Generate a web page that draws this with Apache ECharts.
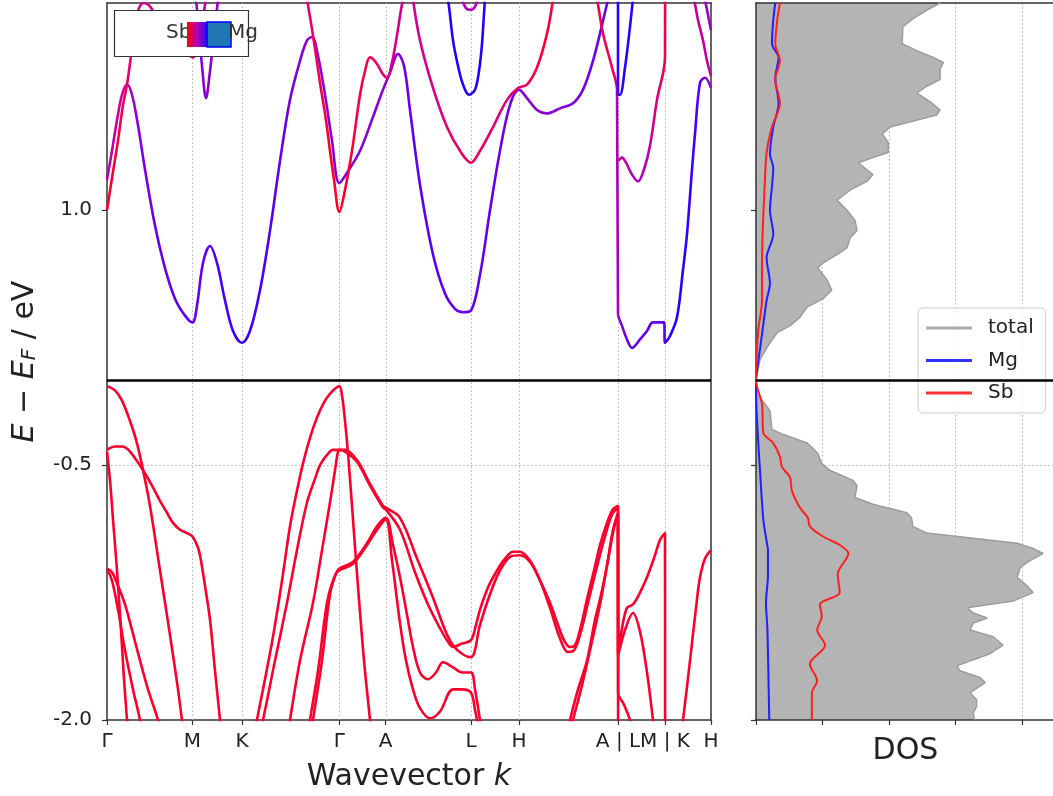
<!DOCTYPE html>
<html>
<head>
<meta charset="utf-8">
<title>Band structure and DOS</title>
<script src="https://cdn.jsdelivr.net/npm/echarts@6.0.0/dist/echarts.min.js"></script>
<style>
html,body{margin:0;padding:0;background:#ffffff;}
#chart{width:1053px;height:796px;}
</style>
</head>
<body>
<div id="chart"></div>
<script>
// ---------------- data ----------------
const kPoints = [0, 0.855, 1.35, 2.323, 2.787, 3.64, 4.12, 5.11, 5.58, 6.04];
const kLabels = ['Γ', 'M', 'K', 'Γ', 'A', 'L', 'H', 'A | L', 'M | K', 'H'];
const energyTicks = [-2.0, -0.5, 1.0];
const energyMin = -2.0;
const energyMax = 2.22;
const dosTicks = [0, 1, 2, 3, 4];
const dosMax = 4.5;

// conduction bands: [k, E, Mg weight]
const cb1 = [[0,1.18,.55],[0.05,1.35,.5],[0.10,1.53,.45],[0.15,1.68,.42],[0.20,1.74,.42],[0.25,1.68,.5],[0.31,1.50,.58],[0.38,1.24,.64],[0.48,0.91,.68],[0.58,0.66,.7],[0.68,0.48,.72],[0.78,0.38,.72],[0.855,0.34,.72],[0.90,0.44,.7],[0.96,0.69,.7],[1.03,0.79,.72],[1.10,0.69,.75],[1.18,0.47,.78],[1.26,0.29,.8],[1.35,0.22,.82],[1.43,0.29,.8],[1.53,0.53,.78],[1.63,0.88,.75],[1.73,1.29,.7],[1.83,1.65,.66],[1.93,1.88,.62],[2.00,2.00,.6],[2.05,2.02,.58],[2.11,1.91,.58],[2.18,1.68,.6],[2.25,1.41,.62],[2.323,1.16,.62],[2.40,1.22,.62],[2.53,1.35,.62],[2.66,1.55,.62],[2.76,1.71,.6],[2.83,1.81,.6],[2.91,1.92,.62],[2.97,1.85,.66],[3.03,1.59,.7],[3.13,1.15,.72],[3.26,0.74,.73],[3.38,0.51,.72],[3.48,0.42,.7],[3.56,0.40,.7],[3.64,0.41,.7],[3.73,0.62,.7],[3.83,1.00,.7],[3.93,1.35,.68],[4.03,1.62,.65],[4.12,1.71,.62],[4.20,1.66,.6],[4.30,1.59,.6],[4.40,1.57,.6],[4.53,1.60,.62],[4.66,1.63,.64],[4.76,1.71,.66],[4.86,1.88,.68],[4.95,2.09,.68],[5.01,2.24,.68],[5.03,2.29,.68]];
const cb2 = [[0,1.00,.12],[0.05,1.19,.15],[0.11,1.41,.2],[0.16,1.62,.25],[0.20,1.74,.3],[0.24,1.91,.32],[0.28,2.09,.35],[0.32,2.19,.38],[0.37,2.22,.4],[0.43,2.20,.4],[0.50,2.13,.4],[0.58,2.06,.4],[0.68,1.99,.4],[0.78,1.93,.4],[0.86,1.90,.4],[0.91,1.97,.42],[0.95,2.09,.45],[0.98,2.21,.45],[0.99,2.26,.45]];
const cb3 = [[0.89,2.24,.55],[0.92,2.06,.58],[0.95,1.85,.6],[0.99,1.66,.62],[1.03,1.82,.6],[1.07,2.03,.58],[1.11,2.24,.55]];
const cb4 = [[1.99,2.26,.35],[2.00,2.24,.35],[2.06,2.03,.32],[2.13,1.75,.28],[2.19,1.53,.22],[2.23,1.35,.18],[2.27,1.18,.14],[2.323,0.99,.1],[2.38,1.12,.14],[2.45,1.35,.18],[2.53,1.68,.22],[2.58,1.82,.24],[2.63,1.90,.26],[2.69,1.87,.3],[2.76,1.80,.35],[2.80,1.78,.38],[2.85,1.87,.4],[2.90,2.03,.4],[2.94,2.18,.4],[2.96,2.24,.4]];
const cb5 = [[3.06,2.24,.42],[3.13,2.00,.4],[3.26,1.72,.38],[3.40,1.49,.34],[3.53,1.35,.3],[3.64,1.28,.28],[3.73,1.35,.3],[3.86,1.49,.34],[4.00,1.65,.36],[4.11,1.72,.32],[4.20,1.74,.25],[4.30,1.84,.2],[4.40,2.04,.18],[4.46,2.24,.18]];
const cb6 = [[3.39,2.26,.85],[3.41,2.24,.85],[3.46,2.00,.86],[3.51,1.85,.87],[3.56,1.74,.88],[3.62,1.68,.88],[3.68,1.71,.88],[3.72,1.82,.87],[3.75,1.98,.86],[3.78,2.24,.85],[3.79,2.26,.85]];
const cb7 = [[3.55,2.24,.5],[3.59,2.19,.5],[3.63,2.18,.5],[3.67,2.19,.5],[3.71,2.24,.5]];
const cb8 = [[4.88,2.26,.25],[4.90,2.24,.25],[4.96,2.04,.25],[5.05,1.84,.25],[5.10,1.71,.28],[5.11,0.39,.5],[5.15,0.32,.62],[5.20,0.24,.68],[5.25,0.19,.7],[5.33,0.24,.7],[5.40,0.29,.7],[5.46,0.34,.7],[5.57,0.34,.72],[5.58,0.22,.85],[5.63,0.26,.86],[5.70,0.37,.86],[5.76,0.65,.85],[5.80,0.86,.84],[5.85,1.24,.8],[5.88,1.45,.78],[5.93,1.75,.7],[5.98,1.78,.62],[6.04,1.72,.58]];
const cb9 = [[5.11,2.26,.85],[5.11,1.68,.85],[5.13,1.68,.85],[5.18,1.84,.85],[5.23,2.08,.85],[5.26,2.24,.85],[5.27,2.26,.85]];
const cb10 = [[5.11,1.29,.4],[5.15,1.31,.42],[5.19,1.28,.45],[5.25,1.21,.5],[5.31,1.17,.52],[5.37,1.24,.5],[5.43,1.38,.45],[5.50,1.65,.35],[5.58,1.90,.2],[5.581,2.26,.15]];
const cb11 = [[5.85,2.26,.45],[5.87,2.24,.45],[5.91,2.12,.45],[5.96,2.00,.45],[6.00,1.88,.45],[6.04,1.79,.45]];
const cb12 = [[5.98,2.24,.55],[6.01,2.15,.55],[6.04,2.06,.55]];

// valence bands: [k, E]
const vb1 = [[0,-0.035],[0.08,-0.06],[0.15,-0.12],[0.23,-0.24],[0.29,-0.35],[0.35,-0.50],[0.43,-0.74],[0.53,-1.12],[0.63,-1.50],[0.71,-1.82],[0.75,-2.00],[0.78,-2.12]];
const vb2 = [[1.45,-2.18],[1.50,-2.00],[1.58,-1.76],[1.66,-1.51],[1.75,-1.18],[1.83,-0.86],[1.90,-0.65],[1.96,-0.49],[2.03,-0.34],[2.10,-0.22],[2.17,-0.13],[2.23,-0.08],[2.28,-0.05],[2.323,-0.035],[2.35,-0.09],[2.38,-0.24],[2.41,-0.43],[2.45,-0.74],[2.49,-1.06],[2.52,-1.29],[2.57,-1.65],[2.63,-2.00],[2.65,-2.12]];
const vb3 = [[0,-0.41],[0.08,-0.39],[0.15,-0.39],[0.23,-0.42],[0.36,-0.53],[0.45,-0.62],[0.53,-0.71],[0.60,-0.78],[0.66,-0.84],[0.73,-0.88],[0.80,-0.90],[0.855,-0.92],[0.90,-0.97],[0.93,-1.03],[0.98,-1.21],[1.03,-1.41],[1.08,-1.71],[1.13,-2.00],[1.15,-2.12]];
const vb4 = [[0,-0.42],[0.03,-0.59],[0.06,-0.82],[0.10,-1.12],[0.14,-1.47],[0.17,-1.76],[0.20,-2.00],[0.21,-2.12]];
const vb5 = [[0,-1.11],[0.05,-1.18],[0.11,-1.35],[0.18,-1.59],[0.26,-1.82],[0.33,-2.00],[0.35,-2.09]];
const vb6 = [[0,-1.11],[0.05,-1.13],[0.11,-1.21],[0.18,-1.32],[0.25,-1.47],[0.33,-1.65],[0.41,-1.82],[0.51,-2.00],[0.53,-2.06]];
const vb7 = [[1.51,-2.12],[1.56,-2.00],[1.68,-1.65],[1.80,-1.31],[1.90,-1.00],[2.00,-0.72],[2.08,-0.58],[2.13,-0.50],[2.20,-0.44],[2.26,-0.41],[2.323,-0.41],[2.38,-0.41],[2.50,-0.47],[2.63,-0.61],[2.76,-0.74],[2.787,-0.75],[2.93,-0.81],[3.10,-1.05],[3.26,-1.28],[3.38,-1.47],[3.46,-1.56],[3.55,-1.61],[3.64,-1.63],[3.73,-1.44],[3.83,-1.26],[3.93,-1.12],[4.03,-1.04],[4.13,-1.03],[4.23,-1.07],[4.33,-1.18],[4.43,-1.34],[4.53,-1.52],[4.61,-1.60],[4.67,-1.59],[4.73,-1.50],[4.81,-1.31],[4.89,-1.12],[4.97,-0.94],[5.05,-0.79],[5.11,-0.75],[5.111,-1.62],[5.18,-1.47],[5.26,-1.37],[5.33,-1.48],[5.40,-1.72],[5.46,-2.00],[5.48,-2.09]];
const vb8 = [[2.01,-2.09],[2.03,-2.00],[2.11,-1.71],[2.20,-1.31],[2.26,-1.18],[2.323,-1.11],[2.46,-1.07],[2.60,-0.96],[2.70,-0.86],[2.787,-0.81],[2.86,-0.97],[2.93,-1.16],[3.00,-1.38],[3.06,-1.57],[3.13,-1.72],[3.21,-1.76],[3.29,-1.72],[3.36,-1.66],[3.46,-1.69],[3.55,-1.72],[3.64,-1.72],[3.68,-1.82],[3.73,-2.00],[3.75,-2.09]];
const vb9 = [[2.04,-2.09],[2.06,-2.00],[2.15,-1.65],[2.23,-1.26],[2.29,-1.14],[2.323,-1.12],[2.46,-1.08],[2.60,-0.97],[2.70,-0.88],[2.787,-0.82],[2.85,-1.06],[2.93,-1.43],[2.99,-1.65],[3.06,-1.82],[3.13,-1.93],[3.23,-1.99],[3.33,-1.95],[3.46,-1.82],[3.55,-1.82],[3.64,-1.84],[3.68,-1.94],[3.71,-2.03]];
const vb10 = [[1.80,-2.12],[1.83,-2.00],[1.93,-1.65],[2.06,-1.31],[2.15,-1.00],[2.23,-0.72],[2.28,-0.53],[2.31,-0.42],[2.323,-0.41],[2.38,-0.42],[2.50,-0.48],[2.63,-0.62],[2.76,-0.75],[2.787,-0.76],[2.93,-0.88],[3.08,-1.13],[3.21,-1.32],[3.33,-1.46],[3.41,-1.54],[3.46,-1.57],[3.55,-1.55],[3.64,-1.53],[3.69,-1.44],[3.73,-1.35],[3.81,-1.22],[3.90,-1.12],[3.98,-1.05],[4.06,-1.01],[4.13,-1.01],[4.20,-1.04],[4.26,-1.09],[4.34,-1.19],[4.43,-1.31],[4.51,-1.44],[4.57,-1.53],[4.63,-1.57],[4.68,-1.56],[4.73,-1.47],[4.80,-1.29],[4.87,-1.12],[4.93,-0.97],[5.00,-0.84],[5.06,-0.76],[5.11,-0.74],[5.111,-1.61],[5.15,-1.46],[5.20,-1.34],[5.26,-1.32],[5.33,-1.25],[5.40,-1.16],[5.48,-1.03],[5.53,-0.94],[5.58,-0.90],[5.581,-2.12]];
const vb11 = [[4.59,-2.12],[4.63,-2.00],[4.71,-1.82],[4.80,-1.65],[4.88,-1.41],[4.93,-1.29],[5.00,-1.09],[5.06,-0.88],[5.11,-0.79],[5.111,-1.84],[5.17,-1.91],[5.23,-2.00],[5.25,-2.06]];
const vb12 = [[4.62,-2.12],[4.66,-2.00],[4.74,-1.82],[4.83,-1.59],[4.93,-1.32],[5.01,-1.06],[5.07,-0.87],[5.11,-0.78],[5.111,-2.12]];
const vb13 = [[5.73,-2.12],[5.76,-2.00],[5.83,-1.65],[5.90,-1.29],[5.93,-1.16],[5.98,-1.05],[6.04,-1.00]];
const valenceWeight = 0.15;

// DOS: [E, states]
const dosTotal = [[2.22,2.77],[2.18,2.58],[2.13,2.37],[2.08,2.21],[1.98,2.20],[1.94,2.42],[1.90,2.67],[1.87,2.82],[1.83,2.77],[1.77,2.77],[1.73,2.57],[1.69,2.42],[1.64,2.62],[1.59,2.77],[1.56,2.72],[1.49,2.02],[1.45,1.90],[1.40,1.99],[1.34,1.99],[1.31,1.76],[1.28,1.54],[1.21,1.76],[1.17,1.67],[1.12,1.42],[1.06,1.22],[1.00,1.37],[0.94,1.49],[0.88,1.52],[0.84,1.42],[0.78,1.37],[0.75,1.26],[0.69,1.01],[0.66,0.93],[0.59,1.07],[0.53,1.14],[0.48,1.01],[0.43,0.77],[0.37,0.66],[0.32,0.51],[0.28,0.32],[0.19,0.16],[0.12,0.06],[0.02,0.01],[0.00,0.00],[-0.05,0.02],[-0.10,0.06],[-0.18,0.21],[-0.29,0.24],[-0.32,0.41],[-0.37,0.77],[-0.43,0.93],[-0.49,0.99],[-0.53,1.11],[-0.59,1.46],[-0.62,1.52],[-0.69,1.49],[-0.73,1.76],[-0.78,2.27],[-0.81,2.34],[-0.86,2.36],[-0.90,2.57],[-0.93,3.27],[-0.96,3.93],[-0.99,4.17],[-1.02,4.32],[-1.06,4.13],[-1.10,3.98],[-1.16,3.93],[-1.21,4.08],[-1.25,4.17],[-1.30,3.87],[-1.34,3.18],[-1.37,3.27],[-1.40,3.48],[-1.43,3.27],[-1.47,3.22],[-1.51,3.57],[-1.56,3.72],[-1.61,3.52],[-1.68,3.03],[-1.71,3.07],[-1.75,3.37],[-1.78,3.45],[-1.84,3.22],[-1.88,3.32],[-1.92,3.32],[-1.96,3.27],[-2.00,3.29]];
const dosMg = [[2.22,0.29],[2.12,0.26],[1.98,0.24],[1.90,0.34],[1.78,0.29],[1.63,0.34],[1.49,0.26],[1.33,0.21],[1.25,0.26],[1.14,0.24],[1.00,0.21],[0.86,0.26],[0.72,0.16],[0.57,0.21],[0.47,0.16],[0.27,0.09],[0.04,0.01],[0.00,0.00],[-0.14,0.005],[-0.34,0.03],[-0.53,0.06],[-0.82,0.11],[-0.95,0.16],[-1.00,0.18],[-1.15,0.18],[-1.31,0.15],[-1.45,0.17],[-1.60,0.18],[-1.80,0.19],[-2.00,0.20]];
const dosSb = [[2.22,0.36],[2.12,0.32],[1.98,0.29],[1.88,0.36],[1.77,0.29],[1.63,0.36],[1.49,0.24],[1.34,0.16],[1.14,0.13],[0.87,0.10],[0.67,0.09],[0.47,0.09],[0.28,0.03],[0.00,0.00],[-0.14,0.09],[-0.31,0.11],[-0.37,0.26],[-0.45,0.36],[-0.51,0.39],[-0.57,0.51],[-0.65,0.54],[-0.75,0.66],[-0.81,0.78],[-0.86,0.81],[-0.92,1.01],[-0.97,1.26],[-1.02,1.39],[-1.14,1.23],[-1.25,1.26],[-1.32,0.96],[-1.39,0.99],[-1.47,0.92],[-1.56,1.04],[-1.67,0.81],[-1.77,0.92],[-1.84,0.84],[-2.00,0.84]];

// ---------------- chart ----------------
const FONT = 'DejaVu Sans';
const TEXT = '#222222';
const AXIS = '#333333';
const GRIDC = '#b0b0b0';

function weightColor(w) {
  const n = Math.sqrt((1 - w) * (1 - w) + w * w);
  const r = Math.round(255 * (1 - w) / n);
  const b = Math.round(255 * w / n);
  return 'rgb(' + r + ',0,' + b + ')';
}
function bandGradient(pts) {
  const k0 = pts[0][0], k1 = pts[pts.length - 1][0];
  const stops = pts.map(p => ({ offset: Math.max(0, Math.min(1, (p[0] - k0) / (k1 - k0))), color: weightColor(p[2]) }));
  return new echarts.graphic.LinearGradient(0, 0, 1, 0, stops);
}

const conduction = [cb1, cb2, cb3, cb4, cb5, cb6, cb7, cb8, cb9, cb10, cb11, cb12];
const valence = [vb1, vb2, vb3, vb4, vb5, vb6, vb7, vb8, vb9, vb10, vb11, vb12, vb13];

const series = [];
series.push({
  type: 'line', name: 'kgrid', xAxisIndex: 0, yAxisIndex: 0, data: [[0, -3]],
  showSymbol: false, silent: true, lineStyle: { opacity: 0 }, z: 1,
  markLine: {
    z: 1, silent: true, symbol: ['none', 'none'], label: { show: false }, animation: false,
    lineStyle: { type: [1.5, 2.5], color: GRIDC, width: 1 },
    data: kPoints.slice(1, -1).map(k => ({ xAxis: k }))
  }
});
conduction.forEach((b, i) => series.push({
  type: 'line', name: 'cb' + (i + 1), xAxisIndex: 0, yAxisIndex: 0,
  data: b.map(p => [p[0], p[1]]), showSymbol: false, smooth: 0.35, silent: true,
  lineStyle: { width: 2.6, color: bandGradient(b) }, z: 3
}));
valence.forEach((b, i) => series.push({
  type: 'line', name: 'vb' + (i + 1), xAxisIndex: 0, yAxisIndex: 0,
  data: b, showSymbol: false, smooth: 0.35, silent: true,
  lineStyle: { width: 2.6, color: weightColor(valenceWeight) }, z: 3
}));
series.push({
  type: 'line', name: 'fermi', xAxisIndex: 0, yAxisIndex: 0, data: [[0, -3]],
  showSymbol: false, silent: true, lineStyle: { opacity: 0 }, z: 6,
  markLine: {
    z: 6, silent: true, symbol: ['none', 'none'], label: { show: false }, animation: false,
    lineStyle: { type: 'solid', color: '#000000', width: 2.6 },
    data: [{ yAxis: 0 }]
  }
});
series.push({
  type: 'custom', name: 'totalFill', xAxisIndex: 2, yAxisIndex: 2, silent: true, z: -1,
  data: [[0, 0]],
  renderItem: function (params, api) {
    const pts = [api.coord([0, dosTotal[0][0]])];
    dosTotal.forEach(p => pts.push(api.coord([p[1], p[0]])));
    pts.push(api.coord([0, dosTotal[dosTotal.length - 1][0]]));
    return { type: 'polygon', shape: { points: pts }, style: { fill: '#b4b4b4', stroke: 'none' } };
  }
});
series.push({
  type: 'line', name: 'total', xAxisIndex: 2, yAxisIndex: 2,
  data: dosTotal.map(p => [p[1], p[0]]), showSymbol: false, silent: true,
  lineStyle: { width: 1.5, color: '#9c9c9c' }, itemStyle: { color: '#aaaaaa' }, z: 3,
  markLine: {
    z: 6, silent: true, symbol: ['none', 'none'], label: { show: false }, animation: false,
    lineStyle: { type: 'solid', color: '#000000', width: 2.6 },
    data: [{ yAxis: 0 }]
  }
});
series.push({
  type: 'line', name: 'Mg', xAxisIndex: 2, yAxisIndex: 2,
  data: dosMg.map(p => [p[1], p[0]]), showSymbol: false, silent: true, smooth: 0.3,
  lineStyle: { width: 2, color: '#1f1fff' }, itemStyle: { color: '#3333ff' }, z: 4
});
series.push({
  type: 'line', name: 'Sb', xAxisIndex: 2, yAxisIndex: 2,
  data: dosSb.map(p => [p[1], p[0]]), showSymbol: false, silent: true, smooth: 0.3,
  lineStyle: { width: 2, color: '#ff1f1f' }, itemStyle: { color: '#ff3333' }, z: 4
});

const chart = echarts.init(document.getElementById('chart'), null, { renderer: 'canvas' });
const option = {
  animation: false,
  backgroundColor: '#ffffff',
  textStyle: { fontFamily: FONT, color: TEXT },
  grid: [
    { left: 107, top: 3, width: 604, height: 717, outerBoundsMode: 'none', containLabel: false },
    { left: 756, top: 3, width: 299, height: 717, outerBoundsMode: 'none', containLabel: false }
  ],
  xAxis: [
    {
      gridIndex: 0, type: 'value', min: 0, max: kPoints[kPoints.length - 1], position: 'bottom',
      axisLine: { show: true, onZero: false, lineStyle: { color: AXIS, width: 1.5 } },
      axisTick: { show: true, customValues: kPoints, length: 5, lineStyle: { color: AXIS, width: 1.2 } },
      axisLabel: {
        show: true, customValues: kPoints, margin: 12, fontSize: 20, color: TEXT, fontFamily: FONT,
        formatter: function (v) {
          for (let i = 0; i < kPoints.length; i++) if (Math.abs(kPoints[i] - v) < 1e-6) return kLabels[i];
          return '';
        }
      },
      splitLine: { show: false },
      name: '{n|Wavevector }{i|k}', nameLocation: 'middle', nameGap: 42,
      nameTextStyle: {
        fontSize: 30, color: TEXT, fontFamily: FONT,
        rich: { n: { fontSize: 30, fontFamily: FONT, color: TEXT }, i: { fontSize: 30, fontFamily: FONT, fontStyle: 'italic', color: TEXT } }
      }
    },
    {
      gridIndex: 0, type: 'value', min: 0, max: kPoints[kPoints.length - 1], position: 'top',
      axisLine: { show: true, onZero: false, lineStyle: { color: AXIS, width: 1.5 } },
      axisTick: { show: false }, axisLabel: { show: false }, splitLine: { show: false }
    },
    {
      gridIndex: 1, type: 'value', min: 0, max: dosMax, interval: 1, position: 'bottom',
      axisLine: { show: true, onZero: false, lineStyle: { color: AXIS, width: 1.5 } },
      axisTick: { show: true, customValues: dosTicks, length: 5, lineStyle: { color: AXIS, width: 1.2 } },
      axisLabel: { show: false },
      splitLine: { show: true, showMinLine: false, lineStyle: { type: [1.5, 2.5], color: GRIDC, width: 1 } },
      name: 'DOS', nameLocation: 'middle', nameGap: 16,
      nameTextStyle: { fontSize: 30, color: TEXT, fontFamily: FONT }
    },
    {
      gridIndex: 1, type: 'value', min: 0, max: dosMax, position: 'top',
      axisLine: { show: true, onZero: false, lineStyle: { color: AXIS, width: 1.5 } },
      axisTick: { show: false }, axisLabel: { show: false }, splitLine: { show: false }
    }
  ],
  yAxis: [
    {
      gridIndex: 0, type: 'value', min: energyMin, max: energyMax, interval: 1.5, position: 'left',
      axisLine: { show: true, onZero: false, lineStyle: { color: AXIS, width: 1.5 } },
      axisTick: { show: true, customValues: energyTicks, length: 5, lineStyle: { color: AXIS, width: 1.2 } },
      axisLabel: { show: true, customValues: energyTicks, margin: 15, fontSize: 20, color: TEXT, fontFamily: FONT, formatter: v => Number(v).toFixed(1) },
      splitLine: { show: true, showMinLine: false, showMaxLine: false, lineStyle: { type: [1.5, 2.5], color: GRIDC, width: 1 } },
      name: '{i|E} − {i|E}{s|F} / eV', nameLocation: 'middle', nameGap: 67, nameRotate: 90,
      nameTextStyle: {
        fontSize: 30, color: TEXT, fontFamily: FONT,
        rich: {
          i: { fontSize: 30, fontStyle: 'italic', fontFamily: FONT, color: TEXT },
          s: { fontSize: 20, fontStyle: 'italic', fontFamily: FONT, color: TEXT, padding: [10, 0, 0, 0] }
        }
      }
    },
    {
      gridIndex: 0, type: 'value', min: energyMin, max: energyMax, position: 'right',
      axisLine: { show: true, onZero: false, lineStyle: { color: AXIS, width: 1.5 } },
      axisTick: { show: false }, axisLabel: { show: false }, splitLine: { show: false }
    },
    {
      gridIndex: 1, type: 'value', min: energyMin, max: energyMax, interval: 1.5, position: 'left',
      axisLine: { show: true, onZero: false, lineStyle: { color: AXIS, width: 1.5 } },
      axisTick: { show: true, customValues: energyTicks, length: 5, lineStyle: { color: AXIS, width: 1.2 } },
      axisLabel: { show: false },
      splitLine: { show: true, showMinLine: false, showMaxLine: false, lineStyle: { type: [1.5, 2.5], color: GRIDC, width: 1 } }
    }
  ],
  legend: {
    data: ['total', 'Mg', 'Sb'], orient: 'vertical', left: 918, top: 308,
    padding: [10, 12, 10, 8], itemGap: 12.5, itemWidth: 46, itemHeight: 3, icon: 'rect',
    backgroundColor: 'rgba(255,255,255,0.8)', borderColor: '#cccccc', borderWidth: 1, borderRadius: 5,
    selectedMode: false,
    textStyle: { fontSize: 20, color: TEXT, fontFamily: FONT, lineHeight: 20, padding: [0, 0, 0, 11] }
  },
  graphic: [
    { type: 'rect', z: 100, shape: { x: 114.5, y: 10.5, width: 134, height: 46 }, style: { fill: '#ffffff', stroke: '#333333', lineWidth: 1.2 } },
    { type: 'text', z: 101, x: 166, y: 33, style: { text: 'Sb', font: '20px "DejaVu Sans"', fill: '#333333', align: 'left', verticalAlign: 'middle' } },
    { type: 'rect', z: 102, shape: { x: 187, y: 22, width: 20, height: 25 },
      style: { fill: new echarts.graphic.LinearGradient(0, 0, 1, 0, [{ offset: 0, color: weightColor(0) }, { offset: 0.5, color: weightColor(0.5) }, { offset: 1, color: weightColor(0.85) }]) } },
    { type: 'rect', z: 102, shape: { x: 207, y: 22, width: 24, height: 25 }, style: { fill: '#1f77b4', stroke: '#0000ff', lineWidth: 1.5 } },
    { type: 'text', z: 103, x: 228, y: 33, style: { text: 'Mg', font: '20px "DejaVu Sans"', fill: '#333333', align: 'left', verticalAlign: 'middle' } }
  ],
  series: series
};
chart.setOption(option);
</script>
</body>
</html>
